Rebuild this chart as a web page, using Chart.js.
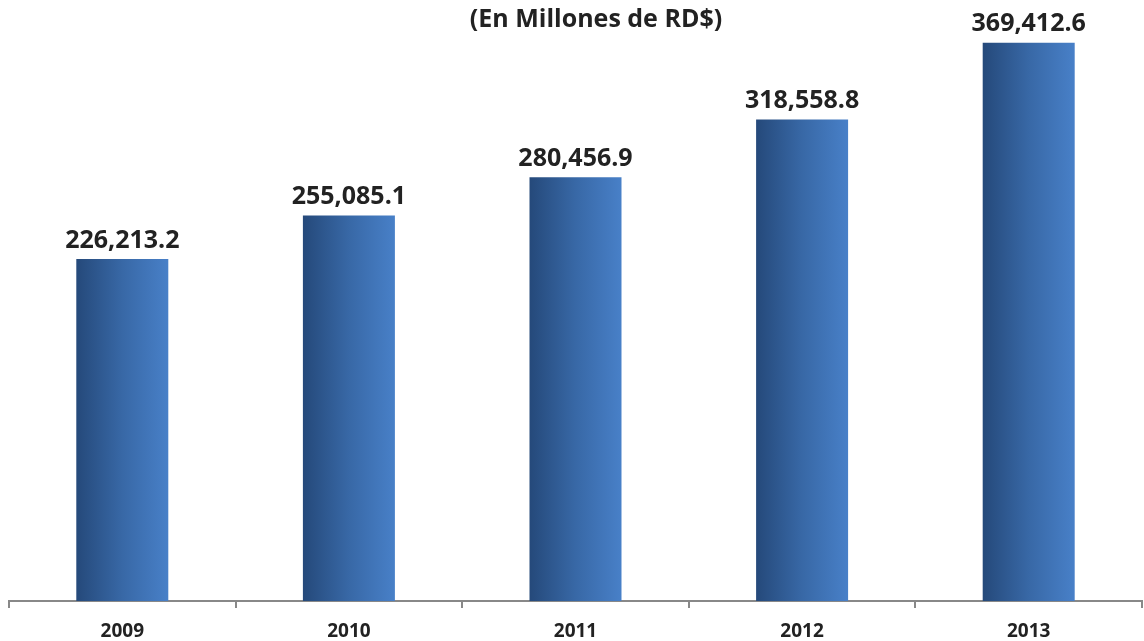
<!DOCTYPE html>
<html>
<head>
<meta charset="utf-8">
<script src="https://cdn.jsdelivr.net/npm/chart.js@4/dist/chart.umd.min.js"></script>
<style>
  html, body { margin: 0; padding: 0; background: #fff; }
  #wrap { width: 1144px; height: 641px; position: relative; }
</style>
</head>
<body>
<div id="wrap"><canvas id="chart"></canvas></div>
<script>
// values in millions of RD$
const years = ['2009', '2010', '2011', '2012', '2013'];
const amounts = [226213.2, 255085.1, 280456.9, 318558.8, 369412.6];
const subtitle = '(En Millones de RD$)';

const fmt = v => v.toLocaleString('en-US', { minimumFractionDigits: 1, maximumFractionDigits: 1 });

// horizontal gradient, dark on the left side of each bar
function barGradient(c) {
    const chart = c.chart;
    const x = chart.scales.x;
    if (!x || !chart.chartArea) return '#3f72b4';
    const cx = x.getPixelForValue(c.dataIndex);
    const half = (x.width / years.length) * 0.406 / 2;
    const g = chart.ctx.createLinearGradient(cx - half, 0, cx + half, 0);
    g.addColorStop(0, '#25497a');
    g.addColorStop(0.5, '#3868a6');
    g.addColorStop(1, '#4880c8');
    return g;
}

const labelsPlugin = {
    id: 'valueLabels',
    afterDatasetsDraw(chart) {
        const ctx = chart.ctx;
        const meta = chart.getDatasetMeta(0);
        ctx.save();
        ctx.fillStyle = '#222';
        ctx.font = 'bold 25px "Open Sans"';
        ctx.textAlign = 'center';
        ctx.textBaseline = 'bottom';
        meta.data.forEach((bar, i) => {
            ctx.fillText(fmt(amounts[i]), bar.x, bar.y - 6);
        });
        // subtitle at the top
        ctx.font = 'bold 25px "Open Sans"';
        ctx.textBaseline = 'middle';
        ctx.fillText(subtitle, 596, 20);
        ctx.restore();
    }
};

new Chart(document.getElementById('chart'), {
    type: 'bar',
    data: {
        labels: years,
        datasets: [{
            data: amounts,
            backgroundColor: barGradient,
            borderWidth: 0,
            categoryPercentage: 1,
            barPercentage: 0.406
        }]
    },
    options: {
        responsive: true,
        maintainAspectRatio: false,
        animation: false,
        layout: { padding: { left: 9, right: 2, top: 1, bottom: 0 } },
        plugins: {
            legend: { display: false },
            tooltip: { enabled: false }
        },
        scales: {
            x: {
                afterFit: s => { s.height = 40; },
                grid: {
                    drawOnChartArea: false,
                    tickLength: 7,
                    color: '#888',
                    lineWidth: 2,
                    offset: true
                },
                border: { color: '#888', width: 2 },
                ticks: {
                    color: '#222',
                    font: { family: '"Open Sans"', size: 19, weight: 'bold', lineHeight: 1 },
                    padding: 14
                }
            },
            y: {
                display: false,
                min: 0,
                max: 397000
            }
        }
    },
    plugins: [labelsPlugin]
});
</script>
</body>
</html>
